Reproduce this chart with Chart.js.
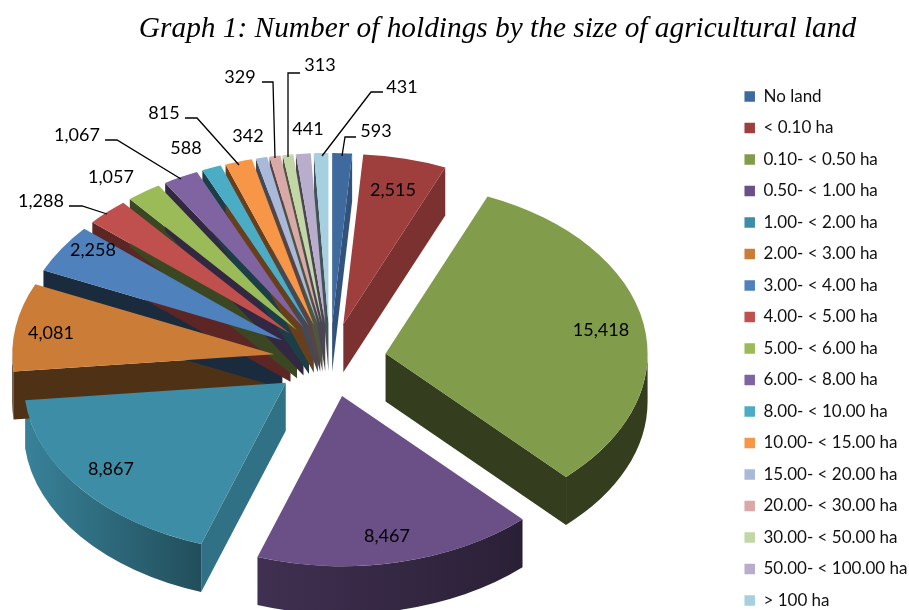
<!DOCTYPE html>
<html><head><meta charset="utf-8">
<style>html,body{margin:0;padding:0;background:#fff}canvas{display:block}</style>
<script src="https://cdn.jsdelivr.net/npm/chart.js@4"></script></head>
<body><canvas id="c" width="909" height="610"></canvas>
<script>
const categories = ["No land","< 0.10 ha","0.10- < 0.50 ha","0.50- < 1.00 ha","1.00- < 2.00 ha","2.00- < 3.00 ha","3.00- < 4.00 ha","4.00- < 5.00 ha","5.00- < 6.00 ha","6.00- < 8.00 ha","8.00- < 10.00 ha","10.00- < 15.00 ha","15.00- < 20.00 ha","20.00- < 30.00 ha","30.00- < 50.00 ha","50.00- < 100.00 ha","> 100 ha"];
const holdings = [593,2515,15418,8467,8867,4081,2258,1288,1057,1067,588,815,342,329,313,441,431];
const titleText = "Graph 1: Number of holdings by the size of agricultural land";

const colours = ["#3f6a9e","#9e3f3d","#819c4a","#6a5087","#3d8da6","#cb7d38","#4f81bd","#c0504d","#9bbb59","#8064a2","#4bacc6","#f79646","#a8b9d9","#d9a9a8","#c3d6a5","#b8adcb","#a6cfdf"];
const rimShade = [[.78,.78],[.6,.75],[.4,.4],[.6,.4],[.92,.55],[.39,.39],[.33,.33],[.48,.48],[.38,.38],[.4,.4],[.36,.36],[.42,.42],[.4,.4],[.4,.4],[.4,.4],[.4,.4],[.4,.4]];
const cutShade = [.78,.78,.4,.4,.8,.39,.33,.48,.38,.4,.36,.42,.4,.4,.4,.4,.4];

const labelFont = "18px Lato";
const labelSpots = [[376,131],[393,190],[601,330],[387,536],[111,469],[51,333],[93,250],[41,201],[111,177],[77,135],[186,148],[164,113],[248,136],[240,77],[320,65],[308,129],[402,87]];
const leaders = [[[356,137],[345,137],[342,156]],[[69,206],[82,206],[107,214]],[[105,140],[117,140],[181,179]],[[185,118],[197,118],[239,165]],[[262,82],[273,82],[275,158]],[[300,73],[288,73],[288,157]],[[383,92],[371,92],[322,156]]];

const centre = {x:330,y:360}, tilt = .65, depth = 48, explode = 56.5, radius = 262;

function shade(hex,f){
  const n=parseInt(hex.slice(1),16);
  return `rgb(${Math.round((n>>16&255)*f)},${Math.round((n>>8&255)*f)},${Math.round((n&255)*f)})`;
}
const pie3d = {
  id:'pie3d',
  // Explode every arc evenly by moving the element itself along its middle angle.
  afterDatasetsUpdate(chart){
    const meta=chart.getDatasetMeta(0);
    meta.cx=meta.data[0].x; meta.cy=meta.data[0].y;
    meta.data.forEach(el=>{
      const m=(el.startAngle+el.endAngle)/2;
      el.x+=Math.cos(m)*explode;
      el.y+=Math.sin(m)*explode;
    });
  },
  beforeDatasetsDraw(chart){
    const ctx=chart.ctx, meta=chart.getDatasetMeta(0), arcs=meta.data;
    ctx.save();
    ctx.translate(centre.x-meta.cx,centre.y);
    ctx.scale(1,tilt);
    ctx.translate(0,-meta.cy);
    const D=depth/tilt, R=radius;
    arcs.forEach((el,i)=>{
      const a=el.startAngle,b=el.endAngle;
      const ax=el.x, ay=el.y;
      const quad=t=>{
        ctx.beginPath();
        ctx.moveTo(ax,ay);
        ctx.lineTo(ax+Math.cos(t)*R,ay+Math.sin(t)*R);
        ctx.lineTo(ax+Math.cos(t)*R,ay+Math.sin(t)*R+D);
        ctx.lineTo(ax,ay+D);
        ctx.closePath();
        ctx.fillStyle=shade(colours[i],cutShade[i]);
        ctx.fill();
      };
      if(Math.cos(a)<0) quad(a);
      if(Math.cos(b)>0) quad(b);
      const s=Math.max(a,0), e=Math.min(b,Math.PI);
      if(e>s){
        const xs=[ax+Math.cos(s)*R,ax+Math.cos(e)*R];
        const g=ctx.createLinearGradient(Math.min(...xs),0,Math.max(...xs),0);
        g.addColorStop(0,shade(colours[i],rimShade[i][0]));
        g.addColorStop(1,shade(colours[i],rimShade[i][1]));
        ctx.beginPath();
        ctx.arc(ax,ay,R,s,e);
        ctx.arc(ax,ay+D,R,e,s,true);
        ctx.closePath();
        ctx.fillStyle=g;
        ctx.fill();
      }
    });
  },
  afterDatasetsDraw(chart){
    const ctx=chart.ctx;
    ctx.restore();
    ctx.save();
    ctx.strokeStyle='#000';ctx.lineWidth=1.3;
    leaders.forEach(l=>{
      ctx.beginPath();
      l.forEach((p,j)=>j?ctx.lineTo(p[0],p[1]):ctx.moveTo(p[0],p[1]));
      ctx.stroke();
    });
    ctx.font=labelFont;ctx.fillStyle='#000';ctx.textAlign='center';ctx.textBaseline='middle';
    holdings.forEach((v,i)=>ctx.fillText(v.toLocaleString('en-US'),labelSpots[i][0],labelSpots[i][1]));
    ctx.restore();
  }
};
new Chart(document.getElementById('c'),{
  type:'pie',
  data:{labels:categories,datasets:[{data:holdings,backgroundColor:colours,borderWidth:0,radius:radius,clip:false}]},
  options:{
    responsive:false,animation:false,events:[],
    layout:{padding:{left:77.6,right:-8.4,top:0,bottom:-87}},
    plugins:{
      tooltip:{enabled:false},
      title:{display:true,text:titleText,color:'#000',font:{family:'"Liberation Serif"',style:'italic',weight:'normal',size:29.35},padding:{top:12,bottom:26.8}},
      legend:{position:'right',align:'center',labels:{font:{family:'Lato',size:17},color:'#111',boxWidth:10.5,boxHeight:10.5,padding:14.5}}
    }
  },
  plugins:[pie3d]
});
</script></body></html>
